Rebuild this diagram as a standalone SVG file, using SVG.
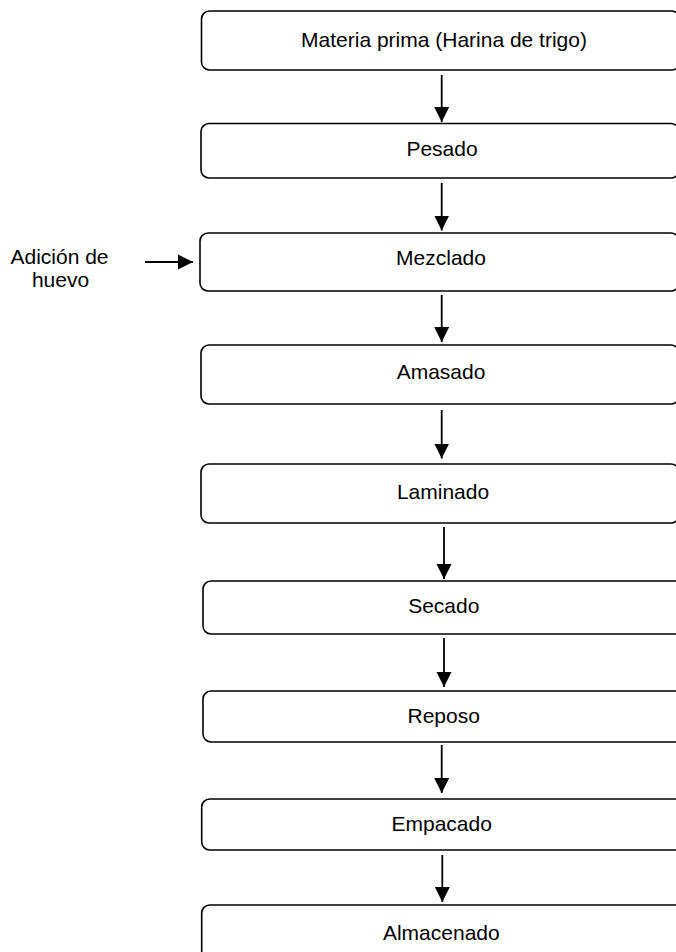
<svg xmlns="http://www.w3.org/2000/svg" width="676" height="952" viewBox="0 0 676 952">
<defs>
<style>
.box{fill:#fff;stroke:#000;stroke-width:1.6}
.t{font-family:"Liberation Sans",Arial,sans-serif;font-size:21px;fill:#000;text-anchor:middle}
.c{stroke:#000;stroke-width:1.8;fill:none}
</style>
<marker id="ah" markerUnits="userSpaceOnUse" markerWidth="16" markerHeight="16" viewBox="0 0 16 16" refX="15" refY="8" orient="auto">
<path d="M0,0.5 L15,8 L0,15.5 Z" fill="#000"/>
</marker>
</defs>
<rect width="676" height="952" fill="#fff"/>
<g id="n1"><rect class="box" x="201.5" y="11" width="478" height="59" rx="8"/><text class="t" x="444" y="47">Materia prima (Harina de trigo)</text></g>
<g id="n2"><rect class="box" x="201" y="123.5" width="478" height="54.5" rx="8"/><text class="t" x="442" y="155.7">Pesado</text></g>
<g id="n3"><rect class="box" x="200" y="233" width="479" height="58" rx="8"/><text class="t" x="441" y="265">Mezclado</text></g>
<g id="n4"><rect class="box" x="201" y="345" width="478" height="59" rx="8"/><text class="t" x="441" y="379.3">Amasado</text></g>
<g id="n5"><rect class="box" x="201" y="464" width="478" height="59" rx="8"/><text class="t" x="443" y="499.3">Laminado</text></g>
<g id="n6"><rect class="box" x="203" y="581" width="483" height="53" rx="8"/><text class="t" x="443.8" y="613.3">Secado</text></g>
<g id="n7"><rect class="box" x="203" y="691" width="483" height="51" rx="8"/><text class="t" x="443.7" y="723.3">Reposo</text></g>
<g id="n8"><rect class="box" x="201.7" y="799" width="484" height="51" rx="8"/><text class="t" x="441.7" y="831">Empacado</text></g>
<g id="n9"><rect class="box" x="201.7" y="905" width="484" height="60" rx="8"/><text class="t" x="441.3" y="940">Almacenado</text></g>
<g id="lbl"><text class="t" x="59.5" y="264.3">Adición de</text><text class="t" x="60.5" y="286.7">huevo</text></g>
<g id="connectors">
<line class="c" x1="441.7" y1="75" x2="441.7" y2="122" marker-end="url(#ah)"/>
<line class="c" x1="441.7" y1="183" x2="441.7" y2="230.5" marker-end="url(#ah)"/>
<line class="c" x1="441.7" y1="295" x2="441.7" y2="342" marker-end="url(#ah)"/>
<line class="c" x1="441.7" y1="410" x2="441.7" y2="458.5" marker-end="url(#ah)"/>
<line class="c" x1="444" y1="527" x2="444" y2="579" marker-end="url(#ah)"/>
<line class="c" x1="444" y1="638" x2="444" y2="687" marker-end="url(#ah)"/>
<line class="c" x1="441.7" y1="745" x2="441.7" y2="793" marker-end="url(#ah)"/>
<line class="c" x1="442.3" y1="855" x2="442.3" y2="902" marker-end="url(#ah)"/>
<line class="c" x1="145" y1="262" x2="193" y2="262" marker-end="url(#ah)"/>
</g>
</svg>
